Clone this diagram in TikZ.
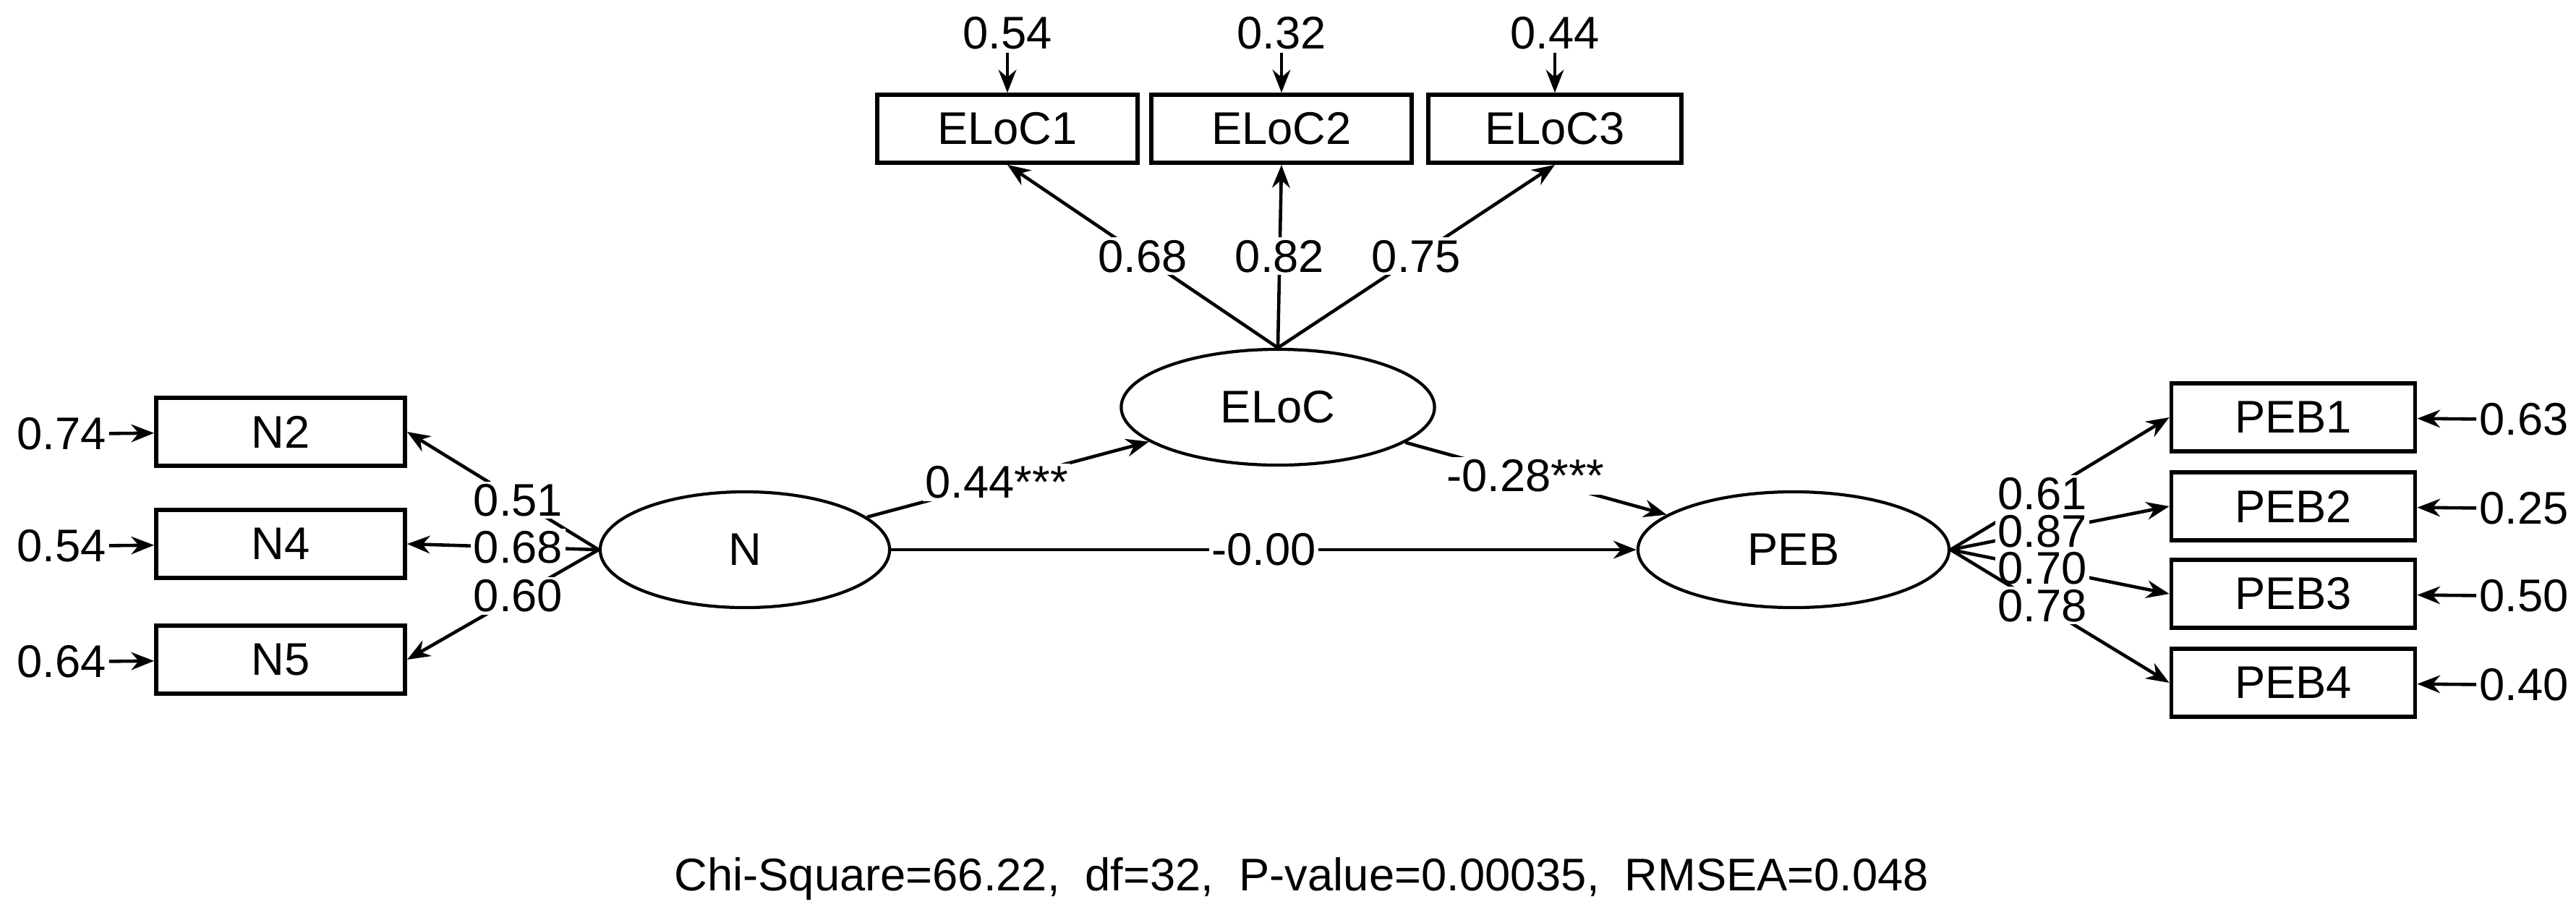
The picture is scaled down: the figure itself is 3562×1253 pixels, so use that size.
\documentclass[tikz,border=0pt]{standalone}
\usepackage{fontspec}
\setmainfont{Liberation Sans}
\usetikzlibrary{arrows.meta,shapes.geometric}
\begin{document}
\begin{tikzpicture}[x=0.01cm,y=-0.01cm,font=\fontsize{18}{20}\selectfont,
  obs/.style={draw,line width=1.6pt,minimum width=3.44cm,minimum height=0.94cm,inner sep=0},
  lat/.style={draw,ellipse,line width=1.2pt,minimum width=4.0cm,minimum height=1.6cm,inner sep=0},
  arr/.style={-{Stealth[length=9pt,width=7pt]},line width=1.3pt},
  lab/.style={fill=white,inner sep=1pt},
  txt/.style={inner sep=1pt}]
\useasboundingbox (0,0) rectangle (3562,1253);
\node[obs,minimum width=3.6cm] (E1) at (1393,178) {ELoC1};
\node[obs,minimum width=3.6cm] (E2) at (1772,178) {ELoC2};
\node[obs,minimum width=3.5cm] (E3) at (2150,178) {ELoC3};
\node[txt] (e1) at (1393,46) {0.54};
\node[txt] (e2) at (1772,46) {0.32};
\node[txt] (e3) at (2150,46) {0.44};
\foreach \i in {1,2,3} \draw[arr] (e\i) -- (E\i);
\node[lat,minimum width=4.33cm] (EL) at (1767,563) {ELoC};
\node[lat] (N) at (1030,760) {N};
\node[lat,minimum width=4.3cm] (P) at (2480,760) {PEB};
\coordinate (ELt) at (EL.north);
\draw[arr] (ELt) -- node[lab,pos=0.5]{0.68} (E1.south);
\draw[arr] (ELt) -- node[lab,pos=0.5]{0.82} (E2.south);
\draw[arr] (ELt) -- node[lab,pos=0.5]{0.75} (E3.south);
\node[obs] (N2) at (388,597) {N2};
\node[obs] (N4) at (388,752) {N4};
\node[obs] (N5) at (388,912) {N5};
\node[txt] (n2) at (85,600) {0.74};
\node[txt] (n4) at (85,755) {0.54};
\node[txt] (n5) at (85,915) {0.64};
\foreach \i in {2,4,5} \draw[arr] (n\i) -- (N\i);
\coordinate (Nw) at (N.west);
\draw[arr] (Nw) -- node[lab,pos=0.42]{0.51} (N2.east);
\draw[arr] (Nw) -- node[lab,pos=0.42]{0.68} (N4.east);
\draw[arr] (Nw) -- node[lab,pos=0.42]{0.60} (N5.east);
\node[obs,minimum width=3.37cm] (P1) at (3171,577) {PEB1};
\node[obs,minimum width=3.37cm] (P2) at (3171,700) {PEB2};
\node[obs,minimum width=3.37cm] (P3) at (3171,821) {PEB3};
\node[obs,minimum width=3.37cm] (P4) at (3171,944) {PEB4};
\node[txt] (p1) at (3490,580) {0.63};
\node[txt] (p2) at (3490,703) {0.25};
\node[txt] (p3) at (3490,824) {0.50};
\node[txt] (p4) at (3490,947) {0.40};
\foreach \i in {1,2,3,4} \draw[arr] (p\i) -- (P\i);
\coordinate (Pe) at (P.east);
\draw[arr] (Pe) -- node[lab,pos=0.42]{0.61} (P1.west);
\draw[arr] (Pe) -- node[lab,pos=0.42]{0.87} (P2.west);
\draw[arr] (Pe) -- node[lab,pos=0.42]{0.70} (P3.west);
\draw[arr] (Pe) -- node[lab,pos=0.42]{0.78} (P4.west);
\draw[arr] (N) -- node[lab,pos=0.46]{0.44***} (EL);
\draw[arr] (EL) -- node[lab,pos=0.46]{-0.28***} (P);
\draw[arr] (N) -- node[lab]{-0.00} (P);
\node[txt] (fit) at (1800,1215) {Chi-Square=66.22,\ \ df=32,\ \ P-value=0.00035,\ \ RMSEA=0.048};
\end{tikzpicture}
\end{document}
